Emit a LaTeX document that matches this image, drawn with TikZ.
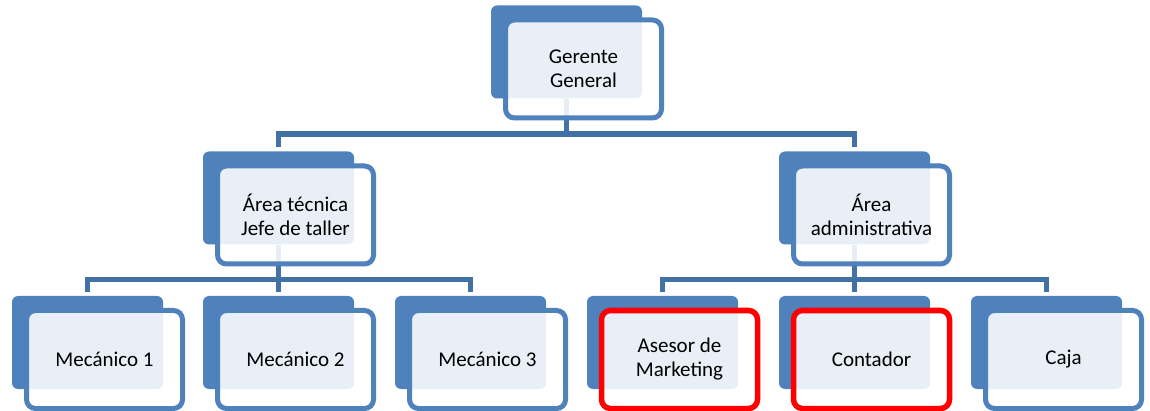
\documentclass[tikz,border=0pt]{standalone}
\usepackage{fontspec}
\setmainfont{Carlito}
\usepackage{tikz}
\usetikzlibrary{positioning,calc,backgrounds}
\definecolor{azul}{RGB}{79,129,189}
\definecolor{azulosc}{RGB}{66,113,165}
\tikzset{
  fondo/.style={rectangle,rounded corners=6pt,fill=azul,minimum width=151pt,minimum height=93pt,inner sep=0pt},
  caja/.style={rectangle,rounded corners=9pt,draw=azul,line width=5pt,fill=white,fill opacity=0.88,text opacity=1,
    minimum width=156pt,minimum height=98pt,inner sep=0pt,align=center,font=\fontsize{21}{24}\selectfont,xshift=17pt,yshift=-17pt},
  rojo/.style={draw=red,line width=5.5pt},
  con/.style={draw=azulosc,line width=5.5pt,line join=miter,shorten >=4pt},
}
\begin{document}
\begin{tikzpicture}[x=1pt,y=-1pt]
  \useasboundingbox (0,0) rectangle (1150,411);
  % nivel 1
  \node[fondo] (ger) at (566.5,52){};
  \node[caja] (gerT) at (ger){Gerente\\General};
  % nivel 2
  \node[fondo] (tec) at (278.5,198){};
  \node[caja] (tecT) at (tec){Área técnica\\Jefe de taller};
  \node[fondo] (adm) at (854.5,198){};
  \node[caja] (admT) at (adm){Área\\administrativa};
  % nivel 3
  \node[fondo] (m1) at (87.5,342.5){};
  \node[caja] (m1T) at (m1){Mecánico 1};
  \node[fondo] (m2) at (278.5,342.5){};
  \node[caja] (m2T) at (m2){Mecánico 2};
  \node[fondo] (m3) at (470.5,342.5){};
  \node[caja] (m3T) at (m3){Mecánico 3};
  \node[fondo] (mkt) at (662.5,342.5){};
  \node[caja,rojo] (mktT) at (mkt){Asesor de\\Marketing};
  \node[fondo] (cont) at (854.5,342.5){};
  \node[caja,rojo] (contT) at (cont){Contador};
  \node[fondo] (caj) at (1046.5,342.5){};
  \node[caja] (cajT) at (caj){Caja};
  \coordinate (b1) at (0,134);
  \coordinate (b2) at (0,279.5);
  \begin{scope}[on background layer]
    \draw[con] (ger.south) -- (ger.south |- b1) -| (tec.north);
    \draw[con] (ger.south) -- (ger.south |- b1) -| (adm.north);
    \foreach \h in {m1,m2,m3}
      \draw[con] (tec.south) -- (tec.south |- b2) -| (\h.north);
    \foreach \h in {mkt,cont,caj}
      \draw[con] (adm.south) -- (adm.south |- b2) -| (\h.north);
  \end{scope}
\end{tikzpicture}
\end{document}
